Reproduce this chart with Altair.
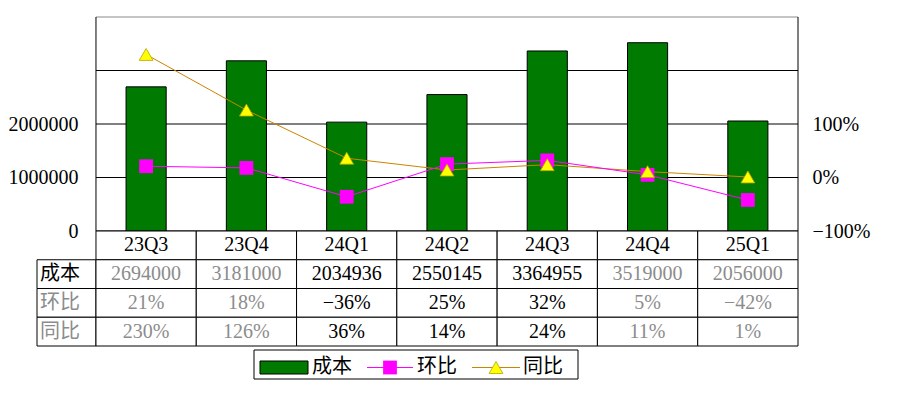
import altair as alt
import pandas as pd

# ---- data ----
quarters = ["23Q3", "23Q4", "24Q1", "24Q2", "24Q3", "24Q4", "25Q1"]
cost = [2694000, 3181000, 2034936, 2550145, 3364955, 3519000, 2056000]
qoq = [21, 18, -36, 25, 32, 5, -42]       # 环比 (%)
yoy = [230, 126, 36, 14, 24, 11, 1]       # 同比 (%)
series = ["成本", "环比", "同比"]
blurred = ["23Q3", "23Q4", "24Q4", "25Q1"]   # cells unreadable (blurred) in the reference
left_ticks = [0, 1000000, 2000000]
right_ticks = [-100, 0, 100]
grid_vals = [0, 1000000, 2000000, 3000000]
y_max = 4000000
p_domain = [-100, 300]

FONT = "Liberation Serif, Noto Sans CJK SC"
GREEN = "#007A00"
PINK = "#FF00FF"
ORANGE = "#CC8400"
YELLOW = "#FFFF00"
GREY_TXT = "#8c8c8c"

n = len(quarters)
XMIN = -0.588
xs = alt.Scale(domain=[XMIN, n], nice=False, zero=False, padding=0)
ys = alt.Scale(domain=[0, y_max], nice=False, padding=0)
ps = alt.Scale(domain=p_domain, nice=False, zero=False, padding=0)

left_axis = alt.Axis(values=left_ticks, format="d", orient="left", offset=-43,
                     domain=False, ticks=False, tickSize=0, grid=False, labelPadding=2,
                     labelFont=FONT, labelFontSize=20, labelColor="black", title=None)
right_axis = alt.Axis(orient="right", values=right_ticks, domain=False, ticks=False, tickSize=0, grid=False,
                      labelPadding=14, labelFont=FONT, labelFontSize=20, labelColor="black", title=None,
                      labelExpr="(datum.value < 0 ? '−' : '') + abs(datum.value) + '%'")

df = pd.DataFrame({"q": quarters, "i": list(range(n)), "cost": cost, "qoq": qoq, "yoy": yoy})

# ---------------- top plot ----------------
grid = alt.Chart(pd.DataFrame({"v": grid_vals})).mark_rule(color="black", strokeWidth=1).encode(
    y=alt.Y("v:Q", scale=ys, axis=left_axis),
    x=alt.XDatum(0, type="quantitative", scale=xs, axis=None),
    x2=alt.X2Datum(n),
)
top_border = alt.Chart(pd.DataFrame({"v": [y_max]})).mark_rule(color="#8a8a8a", strokeWidth=1).encode(
    y=alt.Y("v:Q", scale=ys, axis=left_axis),
    x=alt.XDatum(0, type="quantitative", scale=xs, axis=None),
    x2=alt.X2Datum(n),
)
sides = alt.Chart(pd.DataFrame({"xb": [0, n]})).mark_rule(color="black", strokeWidth=1).encode(
    x=alt.X("xb:Q", scale=xs, axis=None),
    y=alt.YDatum(0, type="quantitative", scale=ys, axis=left_axis),
    y2=alt.Y2Datum(y_max),
)
bars = alt.Chart(df).transform_calculate(x0="datum.i + 0.3", x1="datum.i + 0.7").mark_bar(
    fill=GREEN, stroke="black", strokeWidth=1, orient="vertical"
).encode(
    x=alt.X("x0:Q", scale=xs, axis=None),
    x2="x1:Q",
    y=alt.Y("cost:Q", scale=ys, axis=left_axis),
    y2=alt.Y2Datum(0),
)

lbase = alt.Chart(df).transform_calculate(xc="datum.i + 0.5")
o_line = lbase.mark_line(color=ORANGE, strokeWidth=1).encode(
    x=alt.X("xc:Q", scale=xs, axis=None), y=alt.Y("yoy:Q", scale=ps, axis=right_axis))
p_line = lbase.mark_line(color=PINK, strokeWidth=1).encode(
    x=alt.X("xc:Q", scale=xs, axis=None), y=alt.Y("qoq:Q", scale=ps, axis=right_axis))
p_pts = lbase.mark_point(shape="square", filled=True, size=190, fill=PINK, opacity=1).encode(
    x=alt.X("xc:Q", scale=xs, axis=None), y=alt.Y("qoq:Q", scale=ps, axis=right_axis))
y_pts = lbase.mark_point(shape="triangle-up", filled=True, size=190, fill=YELLOW, stroke="#B9A400",
                         strokeWidth=0.8, opacity=1).encode(
    x=alt.X("xc:Q", scale=xs, axis=None), y=alt.Y("yoy:Q", scale=ps, axis=right_axis))

top = alt.layer(
    alt.layer(grid, top_border, sides, bars),
    alt.layer(o_line, p_line, p_pts, y_pts),
).resolve_scale(y="independent").properties(width=761, height=214)

# ---------------- data table ----------------
rows = ["hdr"] + series
cells = []
for i, q in enumerate(quarters):
    cells.append({"row": "hdr", "x0": i, "x1": i + 1, "xc": i + 0.5, "text": q, "q": "hdr", "kind": "v"})


def pct(v):
    return ("−" if v < 0 else "") + f"{abs(v)}%"


row_vals = {
    series[0]: [str(v) for v in cost],
    series[1]: [pct(v) for v in qoq],
    series[2]: [pct(v) for v in yoy],
}
for r in series:
    cells.append({"row": r, "x0": XMIN, "x1": 0, "xc": XMIN, "text": r, "q": "label", "kind": "l"})
    for i, q in enumerate(quarters):
        cells.append({"row": r, "x0": i, "x1": i + 1, "xc": i + 0.5, "text": row_vals[r][i], "q": q, "kind": "v"})
cells_df = pd.DataFrame(cells)

ty = alt.Scale(domain=rows, paddingInner=0, paddingOuter=0)
tbase = alt.Chart(cells_df)
t_rect = tbase.mark_rect(fill="white", stroke="black", strokeWidth=1).encode(
    x=alt.X("x0:Q", scale=xs, axis=None), x2="x1:Q",
    y=alt.Y("row:N", scale=ty, axis=None, sort=rows),
)
t_vals = tbase.transform_filter("datum.kind == 'v'").mark_text(
    font=FONT, fontSize=20, align="center", baseline="middle"
).encode(
    x=alt.X("xc:Q", scale=xs, axis=None),
    y=alt.Y("row:N", scale=ty, axis=None, sort=rows),
    text="text:N",
    color=alt.condition(alt.FieldOneOfPredicate(field="q", oneOf=blurred), alt.value(GREY_TXT), alt.value("black")),
)
t_labs = tbase.transform_filter("datum.kind == 'l'").mark_text(
    font=FONT, fontSize=20, align="left", baseline="middle", dx=3
).encode(
    x=alt.X("xc:Q", scale=xs, axis=None),
    y=alt.Y("row:N", scale=ty, axis=None, sort=rows),
    text="text:N",
    color=alt.condition(alt.FieldOneOfPredicate(field="row", oneOf=series[1:]), alt.value(GREY_TXT), alt.value("black")),
)
table = alt.layer(t_rect, t_vals, t_labs).properties(width=761, height=115)

# ---------------- legend ----------------
one = pd.DataFrame({"k": [0]})
lg = alt.Chart(one)
legend = alt.layer(
    lg.mark_rect(fill="white", stroke="black", strokeWidth=1).encode(
        x=alt.value(217), x2=alt.value(541), y=alt.value(4), y2=alt.value(33)),
    lg.mark_rect(fill=GREEN, stroke="black", strokeWidth=1).encode(
        x=alt.value(223), x2=alt.value(271), y=alt.value(15), y2=alt.value(28)),
    lg.mark_text(text=series[0], font=FONT, fontSize=20, align="left", baseline="middle").encode(
        x=alt.value(275), y=alt.value(21)),
    lg.mark_rule(color=PINK, strokeWidth=1).encode(
        x=alt.value(330), x2=alt.value(376), y=alt.value(21.5)),
    lg.mark_point(shape="square", filled=True, size=190, fill=PINK, opacity=1).encode(
        x=alt.value(353), y=alt.value(21.5)),
    lg.mark_text(text=series[1], font=FONT, fontSize=20, align="left", baseline="middle").encode(
        x=alt.value(380), y=alt.value(21)),
    lg.mark_rule(color=ORANGE, strokeWidth=1).encode(
        x=alt.value(435), x2=alt.value(483), y=alt.value(21.5)),
    lg.mark_point(shape="triangle-up", filled=True, size=190, fill=YELLOW, stroke="#B9A400",
                  strokeWidth=0.8, opacity=1).encode(x=alt.value(459), y=alt.value(21.5)),
    lg.mark_text(text=series[2], font=FONT, fontSize=20, align="left", baseline="middle").encode(
        x=alt.value(486), y=alt.value(21)),
).properties(width=761, height=33)

chart = alt.vconcat(top, table, legend, spacing=0, bounds="flush").properties(
    padding={"left": 0, "top": 8, "right": 5, "bottom": 5},
    background="white",
).configure_view(stroke=None)

chart.save("out.html", embed_options={"renderer": "svg", "actions": False})
